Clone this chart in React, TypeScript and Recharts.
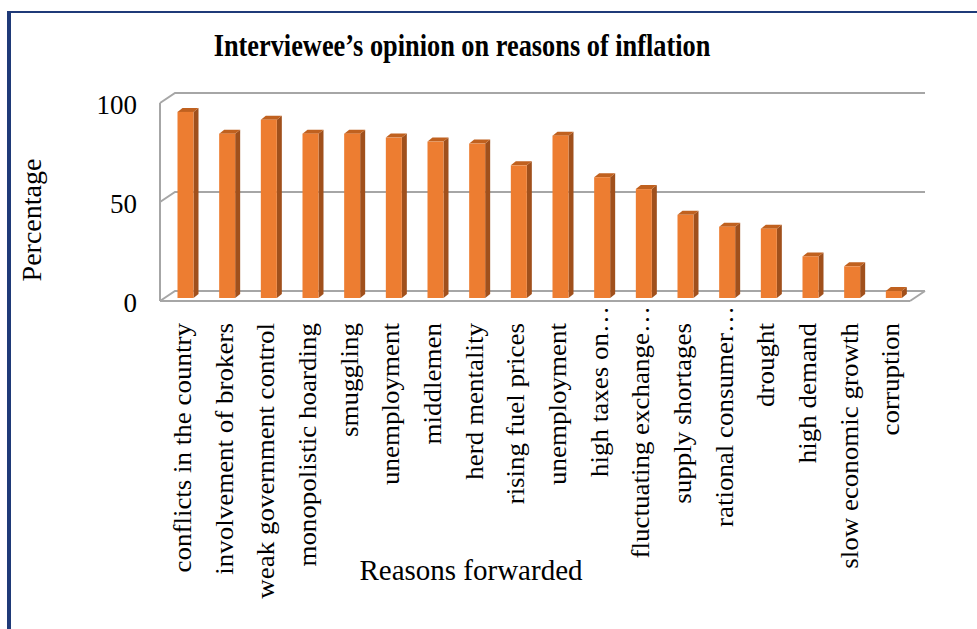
import React from 'react';
import { BarChart, Bar, XAxis, YAxis, CartesianGrid } from 'recharts';

const categories = [
  'conflicts in the country',
  'involvement of brokers',
  'weak government control',
  'monopolistic hoarding',
  'smuggling',
  'unemployment',
  'middlemen',
  'herd mentality',
  'rising fuel prices',
  'unemployment ',
  'high taxes on…',
  'fluctuating exchange…',
  'supply shortages',
  'rational consumer…',
  'drought',
  'high demand',
  'slow economic growth',
  'corruption',
];
const percentages = [94, 83, 90, 83, 83, 81, 79, 78, 67, 82, 61, 55, 42, 36, 35, 21, 16, 3.5];
const yTicks = [0, 50, 100];

const data = categories.map((name, i) => ({ name, value: percentages[i] }));

const SERIF = '"Liberation Serif", "Times New Roman", Times, serif';
const W = 977;
const H = 629;
const MARGIN = { top: 103, right: 67, bottom: 0, left: 100 };
const Y_AXIS_W = 60;
const X_AXIS_H = 328;
const PLOT_BOTTOM = H - MARGIN.bottom - X_AXIS_H;

// depth of the 3D walls / floor
const WALL_DX = 15;
const WALL_DY = -10;
// bar placement inside the depth & bar depth
const BAR_SHIFT_X = 4.5;
const BAR_SHIFT_Y = -3;
const BAR_DX = 5;
const BAR_DY = -4;

const GRID_COLOR = '#A6A6A6';

const Bar3D = (props: any) => {
  const { x, y, width, height } = props;
  if (height == null || height <= 0) return null;
  const fx = x + BAR_SHIFT_X;
  const fy = y + BAR_SHIFT_Y;
  const w = width;
  const h = height;
  const top = `M${fx},${fy} L${fx + BAR_DX},${fy + BAR_DY} L${fx + w + BAR_DX},${fy + BAR_DY} L${fx + w},${fy} Z`;
  const side = `M${fx + w},${fy} L${fx + w + BAR_DX},${fy + BAR_DY} L${fx + w + BAR_DX},${fy + h + BAR_DY} L${fx + w},${fy + h} Z`;
  return (
    <g>
      <path d={side} fill="#A0501C" />
      <path d={top} fill="#C0611F" />
      <rect x={fx} y={fy} width={w} height={h} fill="#ED7D31" />
    </g>
  );
};

const gridLine = (props: any) => {
  const { x1, x2, y1, index } = props;
  const y = y1;
  let d = `M${x1},${y} L${x1 + WALL_DX},${y + WALL_DY} L${x2 + WALL_DX},${y + WALL_DY}`;
  if (Math.abs(y - PLOT_BOTTOM) < 1) {
    d += ` M${x2},${y} L${x2 + WALL_DX},${y + WALL_DY}`;
  }
  return <path key={`grid-${index}-${y}`} d={d} stroke={GRID_COLOR} strokeWidth={2} fill="none" />;
};

const YTick = (props: any) => {
  const { x, y, payload } = props;
  return (
    <text x={x} y={y + 11} textAnchor="end" fontFamily={SERIF} fontSize={27} fill="#000">
      {payload.value}
    </text>
  );
};

const XTick = (props: any) => {
  const { x, payload } = props;
  const label: string = String(payload.value).trim();
  const endY = label.endsWith('…') ? PLOT_BOTTOM + 5 : PLOT_BOTTOM + 22;
  return (
    <g transform={`translate(${x + 10}, ${endY}) rotate(-90) scale(1, 0.9)`}>
      <text x={0} y={0} textAnchor="end" fontFamily={SERIF} fontSize={27} fill="#000">
        {label}
      </text>
    </g>
  );
};

export default function App() {
  return (
    <div
      style={{
        position: 'absolute',
        left: 0,
        top: 0,
        width: W,
        height: H,
        background: '#fff',
        overflow: 'hidden',
      }}
    >
      <div
        style={{
          position: 'absolute',
          left: 7,
          top: 11,
          width: W - 7,
          height: H - 11,
          borderLeft: '4px solid #1F3A78',
          borderTop: '2px solid #1F3A78',
          boxSizing: 'border-box',
        }}
      />
      <div
        style={{
          position: 'absolute',
          left: 0,
          top: 0,
          width: W,
          height: H,
        }}
      >
        <BarChart width={W} height={H} data={data} margin={MARGIN} barSize={16}>
          <text
            transform="translate(462, 56) scale(0.85, 1)"
            textAnchor="middle"
            fontFamily={SERIF}
            fontWeight="bold"
            fontSize={31}
            fill="#000"
          >
            Interviewee’s opinion on reasons of inflation
          </text>
          <CartesianGrid vertical={false} horizontal={gridLine} />
          <YAxis
            width={Y_AXIS_W}
            domain={[0, 100]}
            ticks={yTicks}
            interval={0}
            tickLine={false}
            tickSize={0}
            tickMargin={23}
            axisLine={{ stroke: GRID_COLOR, strokeWidth: 2 }}
            tick={<YTick />}
            label={{
              content: () => (
                <text
                  transform="translate(41, 220) rotate(-90)"
                  textAnchor="middle"
                  fontFamily={SERIF}
                  fontSize={28}
                  fill="#000"
                >
                  Percentage
                </text>
              ),
            }}
          />
          <XAxis
            dataKey="name"
            interval={0}
            height={X_AXIS_H}
            tickLine={false}
            axisLine={{ stroke: GRID_COLOR, strokeWidth: 2 }}
            tick={<XTick />}
            label={{
              content: () => (
                <text x={471} y={580} textAnchor="middle" fontFamily={SERIF} fontSize={29} fill="#000">
                  Reasons forwarded
                </text>
              ),
            }}
          />
          <Bar dataKey="value" shape={<Bar3D />} isAnimationActive={false} />
        </BarChart>
      </div>
    </div>
  );
}
